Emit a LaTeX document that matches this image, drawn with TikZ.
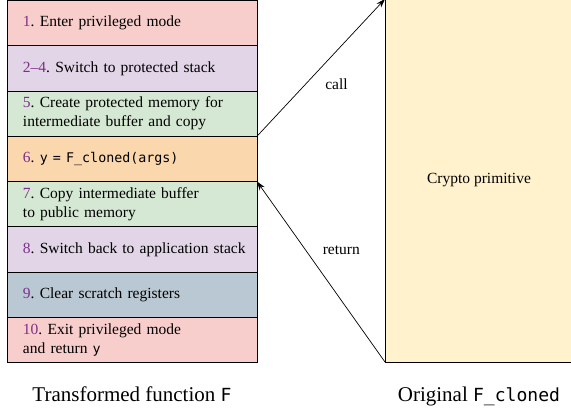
\documentclass[tikz,border=0pt]{standalone}
\usepackage{fontspec}
\setmainfont{Liberation Serif}
\setmonofont[Scale=0.86]{DejaVu Sans Mono}
\usetikzlibrary{positioning,arrows.meta}

\definecolor{steppink}{HTML}{F8CECC}
\definecolor{steplilac}{HTML}{E1D5E7}
\definecolor{stepgreen}{HTML}{D5E8D4}
\definecolor{steporange}{HTML}{FAD7AC}
\definecolor{stepslate}{HTML}{BAC8D3}
\definecolor{cryptofill}{HTML}{FFF2CC}
\definecolor{stepnum}{HTML}{7E2F8A}

\newcommand{\stepno}[1]{\textcolor{stepnum}{#1}.\ }

\begin{document}
\begin{tikzpicture}[x=1pt, y=-1pt, font=\fontsize{15.5}{19}\selectfont,
    stepbox/.style={draw, line width=0.8pt, minimum width=250pt,
        minimum height=45.25pt, text width=218pt, align=left,
        inner sep=0pt, outer sep=0pt},
    caption/.style={font=\fontsize{21}{24}\selectfont},
    callarrow/.style={-{Stealth[length=9pt,width=6pt]}, line width=0.7pt}]
    \useasboundingbox (0,0) rectangle (571,410);
    \clip (0,0) rectangle (571,410);
    % Transformed function
    \node[stepbox, fill=steppink, anchor=north west] (s1) at (7,0.5)
        {\stepno{1}Enter privileged mode};
    \node[stepbox, fill=steplilac, below=0pt of s1] (s2)
        {\stepno{2--4}Switch to protected stack};
    \node[stepbox, fill=stepgreen, below=0pt of s2] (s3)
        {\stepno{5}Create protected memory for\\intermediate buffer and copy};
    \node[stepbox, fill=steporange, below=0pt of s3] (s4)
        {\stepno{6}\texttt{y = F\_cloned(args)}};
    \node[stepbox, fill=stepgreen, below=0pt of s4] (s5)
        {\stepno{7}Copy intermediate buffer\\to public memory};
    \node[stepbox, fill=steplilac, below=0pt of s5] (s6)
        {\mbox{\stepno{8}Switch back to application stack}};
    \node[stepbox, fill=stepslate, below=0pt of s6] (s7)
        {\stepno{9}Clear scratch registers};
    \node[stepbox, fill=steppink, below=0pt of s7] (s8)
        {\stepno{10}Exit privileged mode\\and return \texttt{y}};
    % Original function
    \node[draw, line width=0.8pt, fill=cryptofill, minimum width=188pt,
        minimum height=363pt, inner sep=0pt, outer sep=0pt,
        anchor=north west] (crypto) at (385,-1) {Crypto primitive};
    % Call and return
    \draw[callarrow] (s3.south east) -- (crypto.north west)
        node[pos=0.38, right=16pt] (calllbl) {call};
    \draw[callarrow] (crypto.south west) -- (s4.south east)
        node[pos=0.62, right=13.5pt] (retlbl) {return};
    % Captions
    \node[caption, below=21pt of s8] (capF) {Transformed function \texttt{F}};
    \node[caption, below=21pt of crypto] (capC) {Original \texttt{F\_cloned}};
\end{tikzpicture}
\end{document}
